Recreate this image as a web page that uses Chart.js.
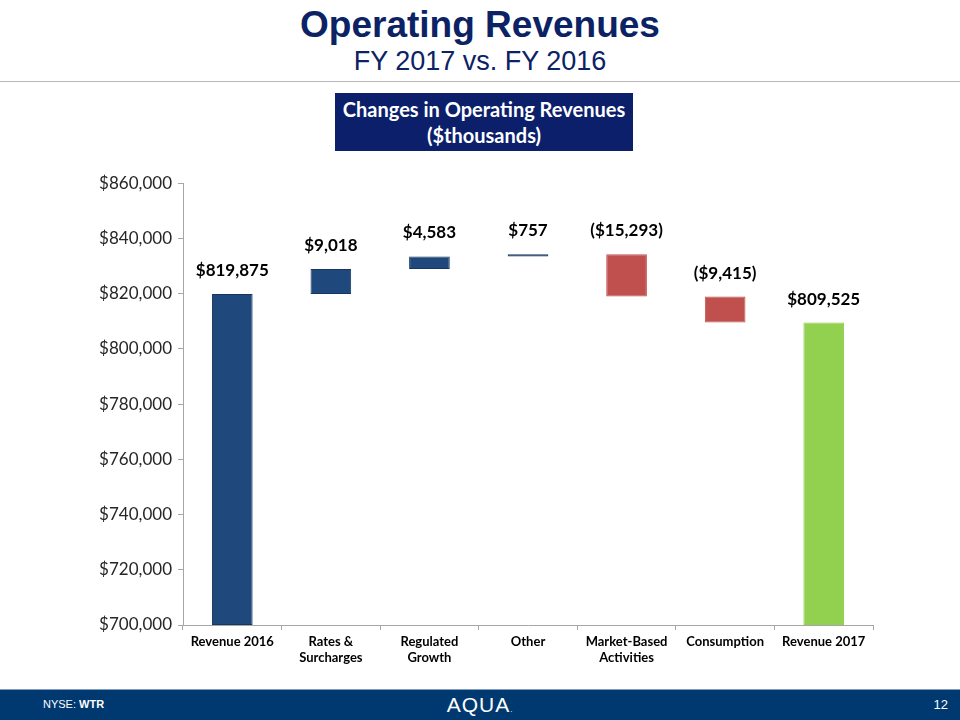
<!DOCTYPE html>
<html>
<head>
<meta charset="utf-8">
<script src="https://cdn.jsdelivr.net/npm/chart.js@4/dist/chart.umd.min.js"></script>
<style>
  body { margin: 0; width: 960px; height: 720px; position: relative; background: #fff; font-family: "Liberation Sans", Arial, sans-serif; overflow: hidden; }
  .title { position: absolute; top: 4px; left: 0; width: 960px; text-align: center; color: #0b2265; font-weight: bold; font-size: 37px; line-height: 42px; }
  .subtitle { position: absolute; top: 46px; left: 0; width: 960px; text-align: center; color: #0b2265; font-size: 27px; line-height: 30px; }
  .rule { position: absolute; top: 81px; left: 0; width: 960px; height: 1px; background: #b8b8b8; }
  .box { position: absolute; left: 335px; top: 93px; width: 298px; height: 58px; background: #0b1f6a; color: #fff; font-family: Lato, "Open Sans", sans-serif; font-weight: bold; font-size: 20px; line-height: 26px; text-align: center; padding-top: 3px; box-sizing: border-box; }
  .wrap { position: absolute; left: 0; top: 167px; width: 880px; height: 513px; }
  .footer { position: absolute; left: 0; top: 689px; width: 960px; height: 31px; background: #00396f; border-top: 1px solid #7f9cc0; color: #fff; }
  .footer .l { position: absolute; left: 43px; top: 8px; font-size: 11px; }
  .footer .c { position: absolute; left: 0; width: 960px; text-align: center; top: 3px; font-size: 21px; letter-spacing: 1px; }
  .footer .r { position: absolute; right: 12px; top: 7px; font-size: 13px; }
</style>
</head>
<body>
<div class="title">Operating Revenues</div>
<div class="subtitle">FY 2017 vs. FY 2016</div>
<div class="rule"></div>
<div class="box">Changes in Operating Revenues<br>($thousands)</div>
<div class="wrap"><canvas id="chart"></canvas></div>
<div class="footer">
  <span class="l">NYSE: <b>WTR</b></span>
  <span class="c">AQUA<span style="font-size:8px">.</span></span>
  <span class="r">12</span>
</div>
<script>
// categories and values ($thousands)
const categories = [['Revenue 2016'], ['Rates &', 'Surcharges'], ['Regulated', 'Growth'], ['Other'], ['Market-Based', 'Activities'], ['Consumption'], ['Revenue 2017']];
const startTotal = 819875;
const changes = [9018, 4583, 757, -15293, -9415];
const endTotal = 809525;
const valueLabels = ['$819,875', '$9,018', '$4,583', '$757', '($15,293)', '($9,415)', '$809,525'];
const yTicks = [700000, 720000, 740000, 760000, 780000, 800000, 820000, 840000, 860000];

const BLUE = '#1f497d', RED = '#c0504d', GREEN = '#92d050';

// floating bars for the waterfall
const ranges = [[700000, startTotal]];
const colors = [BLUE];
let running = startTotal;
changes.forEach(c => {
    ranges.push([running, running + c]);
    colors.push(c >= 0 ? BLUE : RED);
    running += c;
});
ranges.push([700000, endTotal]);
colors.push(GREEN);

const topLabels = {
    id: 'topLabels',
    afterDatasetsDraw(chart) {
        const ctx = chart.ctx;
        const meta = chart.getDatasetMeta(0);
        const y = chart.scales.y;
        ctx.save();
        ctx.font = 'bold 17px Lato, "Open Sans", sans-serif';
        ctx.fillStyle = '#000';
        ctx.textAlign = 'center';
        ctx.textBaseline = 'bottom';
        meta.data.forEach((bar, i) => {
            const top = y.getPixelForValue(Math.max(ranges[i][0], ranges[i][1]));
            ctx.fillText(valueLabels[i], bar.x, top - 15);
        });
        ctx.restore();
    }
};

new Chart(document.getElementById('chart'), {
    type: 'bar',
    data: {
        labels: categories,
        datasets: [{
            data: ranges,
            backgroundColor: colors,
            borderColor: colors.map(c => c === BLUE ? '#17375e' : c),
            borderWidth: 1,
            borderSkipped: false,
            barPercentage: 0.55,
            categoryPercentage: 0.75
        }]
    },
    options: {
        responsive: true,
        maintainAspectRatio: false,
        animation: false,
        layout: { padding: { top: 10, right: 7 } },
        plugins: { legend: { display: false }, tooltip: { enabled: false } },
        scales: {
            x: {
                grid: { drawOnChartArea: false, color: '#a6a6a6', tickLength: 5 },
                border: { color: '#a6a6a6', width: 1 },
                ticks: { color: '#000', font: { family: 'Lato, "Open Sans", sans-serif', size: 13, weight: 'bold' }, maxRotation: 0, padding: 4 },
                afterFit(s) { s.height = 55; }
            },
            y: {
                min: 700000,
                max: 860000,
                afterBuildTicks(s) { s.ticks = yTicks.map(v => ({ value: v })); },
                grid: { drawOnChartArea: false, color: '#a6a6a6', tickLength: 5 },
                border: { color: '#a6a6a6', width: 1 },
                ticks: {
                    color: '#262626',
                    font: { family: 'Lato, "Open Sans", sans-serif', size: 17 },
                    padding: 6,
                    callback: v => '$' + v.toLocaleString('en-US')
                },
                afterFit(s) { s.width = 183; }
            }
        }
    },
    plugins: [topLabels]
});
</script>
</body>
</html>
